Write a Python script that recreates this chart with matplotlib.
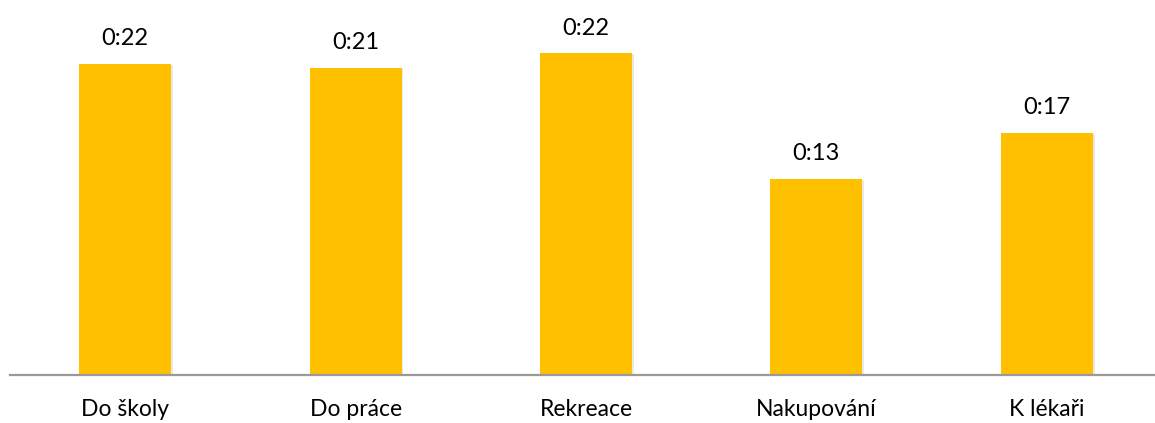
import matplotlib.pyplot as plt
import matplotlib.patheffects as pe
import numpy as np

plt.rcParams['font.family'] = ['Lato', 'DejaVu Sans']

# average travel time per purpose, in minutes
categories = ['Do školy', 'Do práce', 'Rekreace', 'Nakupování', 'K lékaři']
minutes = [22.12, 21.83, 22.85, 13.92, 17.21]


def fmt_time(m):
    total = int(m)
    return '%d:%02d' % (total // 60, total % 60)


if __name__ == '__main__':
    fig = plt.figure(figsize=(11.55, 4.23), dpi=100)
    ax = fig.add_axes([10 / 1155, 48 / 423, 1152 / 1155, 375 / 423])

    x = np.arange(len(categories))
    bars = ax.bar(x, minutes, width=0.4, color='#ffc000', zorder=2)
    for b in bars:
        b.set_path_effects([pe.SimplePatchShadow(offset=(1.2, -0.8), alpha=0.18, shadow_rgbFace='#808080'),
                            pe.Normal()])

    for xi, m in zip(x, minutes):
        ax.annotate(fmt_time(m), (xi, m), xytext=(0, 13.5), textcoords='offset points',
                    ha='center', va='baseline', fontsize=17, color='#000000')

    ax.set_xlim(-0.5, len(categories) - 0.5)
    ax.set_ylim(0, 375 / 14.08)
    ax.set_xticks(x)
    ax.set_xticklabels(categories, fontsize=16.5)
    ax.tick_params(axis='x', length=0, pad=17)
    ax.set_yticks([])
    for side in ['top', 'right', 'left']:
        ax.spines[side].set_visible(False)
    ax.spines['bottom'].set_color('#9a9a9a')
    ax.spines['bottom'].set_linewidth(1.6)

    plt.savefig('out.png', dpi=100)
